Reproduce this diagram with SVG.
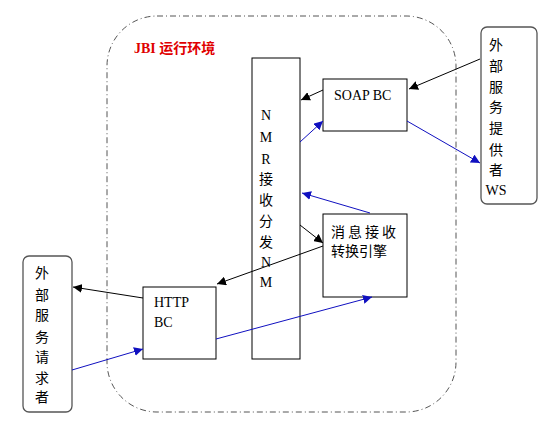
<svg xmlns="http://www.w3.org/2000/svg" width="538" height="423" viewBox="0 0 538 423">
<style>
.box{fill:#fff;stroke:#000;stroke-width:1}
.ext{fill:#fff;stroke:#555;stroke-width:1.3}
.lat{font-family:"Liberation Serif","Noto Sans CJK SC",serif;font-size:14px;fill:#000}
.cjk{font-family:"Noto Sans CJK SC",sans-serif;font-size:14px;fill:#000}
.ttl{font-family:"Liberation Serif","Noto Sans CJK SC",serif;font-size:14px;font-weight:bold;fill:#e00000}
.v{text-anchor:middle}
.k{stroke:#000;stroke-width:1;fill:none;marker-end:url(#ak)}
.b{stroke:#1010c0;stroke-width:1;fill:none;marker-end:url(#ab)}
</style>
<defs>
<marker id="ak" viewBox="0 0 10 10" refX="10" refY="5" markerWidth="9" markerHeight="9" markerUnits="userSpaceOnUse" orient="auto"><path d="M0,0 L10,5 L0,10 z" fill="#000"/></marker>
<marker id="ab" viewBox="0 0 10 10" refX="10" refY="5" markerWidth="9" markerHeight="9" markerUnits="userSpaceOnUse" orient="auto"><path d="M0,0 L10,5 L0,10 z" fill="#1010c0"/></marker>
</defs>
<rect width="538" height="423" fill="#fff"/>
<g id="jbi">
<rect x="107" y="16" width="349" height="396" rx="50" ry="50" fill="none" stroke="#555" stroke-width="1" stroke-dasharray="6 3 1 3"/>
<text class="ttl" x="134" y="53">JBI 运行环境</text>
</g>
<g id="nmr">
<rect class="box" x="252" y="58" width="48" height="301"/>
<text class="lat v" x="266" y="120">N</text>
<text class="lat v" x="266" y="142">M</text>
<text class="lat v" x="266" y="164">R</text>
<text class="cjk v" x="266" y="184">接</text>
<text class="cjk v" x="266" y="205">收</text>
<text class="cjk v" x="266" y="226">分</text>
<text class="cjk v" x="266" y="247">发</text>
<text class="lat v" x="266" y="267">N</text>
<text class="lat v" x="266" y="287">M</text>
</g>
<g id="soap">
<rect class="box" x="323" y="79" width="84" height="52"/>
<text class="lat" x="334" y="100">SOAP BC</text>
</g>
<g id="engine">
<rect class="box" x="323" y="214" width="84" height="83"/>
<text class="cjk" x="331" y="237" letter-spacing="3">消息接收</text>
<text class="cjk" x="331" y="256">转换引擎</text>
</g>
<g id="http">
<rect class="box" x="143" y="287" width="73" height="72"/>
<text class="lat" x="154" y="307">HTTP</text>
<text class="lat" x="154" y="327">BC</text>
</g>
<g id="requester">
<rect class="ext" x="23" y="256" width="49" height="156" rx="6" ry="6"/>
<text class="cjk v" x="42" y="278">外</text>
<text class="cjk v" x="42" y="300">部</text>
<text class="cjk v" x="42" y="320">服</text>
<text class="cjk v" x="42" y="342">务</text>
<text class="cjk v" x="42" y="362">请</text>
<text class="cjk v" x="42" y="383">求</text>
<text class="cjk v" x="42" y="402">者</text>
</g>
<g id="provider">
<rect class="ext" x="481" y="27" width="56" height="177" rx="6" ry="6"/>
<text class="cjk v" x="496" y="50">外</text>
<text class="cjk v" x="496" y="71">部</text>
<text class="cjk v" x="496" y="92">服</text>
<text class="cjk v" x="496" y="112">务</text>
<text class="cjk v" x="496" y="133">提</text>
<text class="cjk v" x="496" y="155">供</text>
<text class="cjk v" x="496" y="175">者</text>
<text class="lat v" x="496" y="195">WS</text>
</g>
<g id="connectors">
<line class="k" x1="480" y1="59" x2="409" y2="89"/>
<line class="k" x1="323" y1="90" x2="301" y2="100"/>
<line class="b" x1="300" y1="142" x2="323" y2="121"/>
<line class="b" x1="407" y1="121" x2="480" y2="163"/>
<line class="b" x1="370" y1="213" x2="302" y2="193"/>
<line class="k" x1="300" y1="225" x2="323" y2="243"/>
<line class="k" x1="323" y1="246" x2="217" y2="284"/>
<line class="k" x1="143" y1="298" x2="73" y2="287"/>
<line class="b" x1="72" y1="370" x2="143" y2="349"/>
<line class="b" x1="216" y1="339" x2="372" y2="297"/>
</g>
</svg>
